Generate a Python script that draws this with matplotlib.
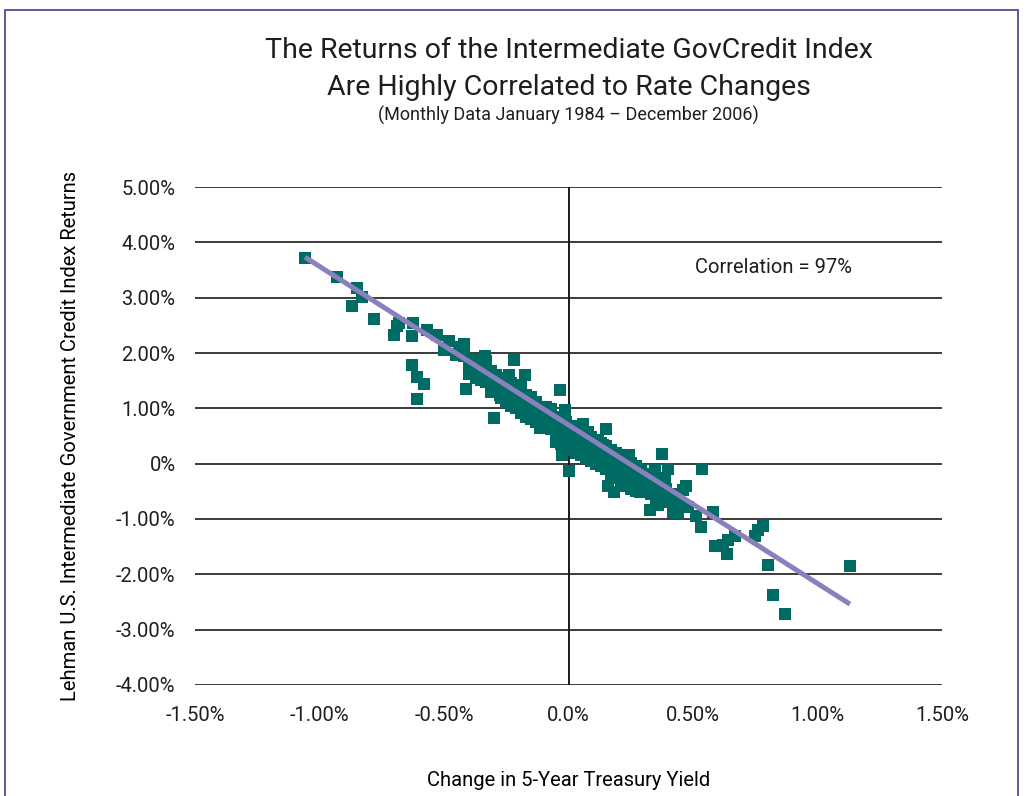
import numpy as np
import matplotlib.pyplot as plt
from matplotlib.patches import Rectangle

plt.rcParams['font.family'] = ['Roboto', 'DejaVu Sans']
plt.rcParams['text.color'] = '#1e1e1e'
plt.rcParams['xtick.color'] = '#1e1e1e'
plt.rcParams['ytick.color'] = '#1e1e1e'

# change in 5-year treasury yield (%) and index return (%)
outlier_x = [-1.058, -0.93, -0.85, -0.83, -0.87, -0.78, -0.70, -0.69, -0.625, -0.63,
             -0.68, -0.63, -0.61, -0.58, -0.61, -0.57, -0.53, -0.50, -0.48, -0.42,
             -0.45, -0.44, -0.42, -0.41, -0.38, -0.335, -0.33, -0.355, -0.31, -0.30,
             -0.29, -0.275, -0.22, -0.24, -0.255, -0.175, -0.19, -0.17, -0.155, -0.215,
             -0.195, -0.135, -0.11, -0.095, -0.115, -0.075, -0.034, -0.014, 0.002, -0.018,
             -0.006, -0.042, -0.026, 0.026, 0.058, 0.078, 0.066, 0.094, 0.118, 0.15,
             0.14, 0.16, 0.167, 0.11, 0.195, 0.227, 0.16, 0.183, 0.215, 0.243,
             0.255, 0.275, 0.287, 0.307, 0.327, 0.347, 0.375, 0.388, 0.40, 0.37,
             0.41, 0.42, 0.46, 0.47, 0.48, 0.45, 0.327, 0.36, 0.51, 0.53,
             0.536, 0.58, 0.59, 0.62, 0.636, 0.64, 0.668, 0.75, 0.76, 0.78,
             0.80, 0.82, 0.87, 1.13]
outlier_y = [3.71, 3.37, 3.17, 3.01, 2.85, 2.61, 2.32, 2.48, 2.54, 2.31,
             2.54, 1.78, 1.57, 1.44, 1.17, 2.41, 2.32, 2.05, 2.22, 2.17,
             1.96, 2.10, 1.94, 1.35, 1.70, 1.94, 1.85, 1.64, 1.60, 0.82,
             1.33, 1.24, 1.87, 1.60, 1.42, 1.60, 1.42, 1.24, 0.88, 1.15,
             1.08, 1.06, 0.97, 0.82, 0.64, 0.75, 1.33, 0.97, -0.13, 0.64,
             0.43, 0.48, 0.16, 0.57, 0.72, 0.57, 0.34, 0.19, 0.43, 0.62,
             0.34, 0.19, 0.07, 0.03, 0.01, 0.12, -0.40, -0.51, -0.41, 0.15,
             -0.11, -0.37, -0.51, -0.26, -0.46, -0.11, 0.17, -0.26, -0.10, -0.48,
             -0.66, -0.83, -0.48, -0.40, -0.79, -0.72, -0.83, -0.74, -0.95, -1.15,
             -0.10, -0.87, -1.49, -1.47, -1.63, -1.38, -1.31, -1.31, -1.19, -1.13,
             -1.83, -2.38, -2.72, -1.85]

band_x = [-0.40, -0.40, -0.40, -0.37, -0.37, -0.37, -0.35, -0.35, -0.35, -0.33,
          -0.33, -0.33, -0.31, -0.31, -0.31, -0.31, -0.29, -0.29, -0.29, -0.27,
          -0.27, -0.27, -0.27, -0.25, -0.25, -0.25, -0.25, -0.23, -0.23, -0.23,
          -0.23, -0.21, -0.21, -0.21, -0.21, -0.19, -0.19, -0.19, -0.19, -0.17,
          -0.17, -0.17, -0.17, -0.15, -0.15, -0.15, -0.15, -0.13, -0.13, -0.13,
          -0.13, -0.11, -0.11, -0.11, -0.11, -0.09, -0.09, -0.09, -0.09, -0.07,
          -0.07, -0.07, -0.07, -0.05, -0.05, -0.05, -0.05, -0.03, -0.03, -0.03,
          -0.03, -0.01, -0.01, -0.01, -0.01, 0.01, 0.01, 0.01, 0.01, 0.03,
          0.03, 0.03, 0.03, 0.05, 0.05, 0.05, 0.05, 0.07, 0.07, 0.07,
          0.07, 0.09, 0.09, 0.09, 0.09, 0.11, 0.11, 0.11, 0.11, 0.13,
          0.13, 0.13, 0.13, 0.15, 0.15, 0.15, 0.15, 0.17, 0.17, 0.17,
          0.17, 0.19, 0.19, 0.19, 0.19, 0.21, 0.21, 0.21, 0.21, 0.23,
          0.23, 0.23, 0.23, 0.25, 0.25, 0.25, 0.25, 0.27, 0.27, 0.27,
          0.27, 0.29, 0.29, 0.29, 0.31, 0.31, 0.31, 0.33, 0.33, 0.33,
          0.35, 0.35, 0.35, 0.37, 0.37, 0.37, 0.39, 0.39, 0.42, 0.42,
          0.42, 0.44, 0.44]
band_y = [1.78, 1.90, 1.62, 1.75, 1.55, 1.88, 1.70, 1.80, 1.52, 1.65,
          1.48, 1.72, 1.55, 1.42, 1.68, 1.30, 1.50, 1.38, 1.60, 1.45,
          1.30, 1.18, 1.55, 1.40, 1.25, 1.12, 1.50, 1.35, 1.20, 1.05,
          1.45, 1.28, 1.12, 1.00, 1.38, 1.22, 1.05, 0.92, 1.30, 1.15,
          1.00, 0.85, 1.25, 1.10, 0.95, 0.80, 1.20, 1.05, 0.88, 0.75,
          1.12, 1.00, 0.85, 0.70, 0.92, 0.95, 0.78, 0.68, 1.02, 0.90,
          0.75, 0.62, 0.98, 0.85, 0.70, 0.58, 0.40, 0.80, 0.65, 0.52,
          0.35, 0.75, 0.60, 0.45, 0.28, 0.68, 0.52, 0.40, 0.25, 0.62,
          0.48, 0.35, 0.20, 0.58, 0.42, 0.30, 0.15, 0.52, 0.38, 0.25,
          0.10, 0.48, 0.32, 0.20, 0.05, 0.42, 0.28, 0.12, 0.00, 0.38,
          0.22, 0.08, -0.05, 0.32, 0.15, 0.02, -0.10, 0.25, 0.10, -0.05,
          -0.18, 0.20, 0.05, -0.10, -0.25, 0.15, 0.00, -0.15, -0.30, 0.08,
          -0.08, -0.22, -0.38, 0.02, -0.15, -0.28, -0.45, -0.05, -0.20, -0.35,
          -0.50, -0.12, -0.28, -0.42, -0.18, -0.35, -0.50, -0.25, -0.40, -0.55,
          -0.30, -0.48, -0.62, -0.38, -0.55, -0.70, -0.45, -0.62, -0.55, -0.75,
          -0.88, -0.62, -0.90]

# regression line
fit_intercept = 0.70
fit_slope = -2.866

x_ticks = [-1.5, -1.0, -0.5, 0.0, 0.5, 1.0, 1.5]
x_ticklabels = ['-1.50%', '-1.00%', '-0.50%', '0.0%', '0.50%', '1.00%', '1.50%']
y_ticks = [5, 4, 3, 2, 1, 0, -1, -2, -3, -4]
y_ticklabels = ['5.00%', '4.00%', '3.00%', '2.00%', '1.00%', '0%',
                '-1.00%', '-2.00%', '-3.00%', '-4.00%']

x = np.array(outlier_x + band_x)
y = np.array(outlier_y + band_y)

fig = plt.figure(figsize=(10.29, 7.96), dpi=100)
ax = fig.add_axes([0.1895, 0.1395, 0.726, 0.6255])

for t in y_ticks:
    ax.axhline(t, color='#3a3a3a', lw=1.4, zorder=1)
ax.axvline(0, color='#1a1a1a', lw=1.4, zorder=1)

ax.scatter(x, y, marker='s', s=80, color='#006b63', linewidths=0, zorder=2)

fx = np.array([x.min(), x.max()])
ax.plot(fx, fit_intercept + fit_slope * fx, color='#8a80bb', lw=3.6,
        solid_capstyle='butt', zorder=3)

ax.text(0.508, 3.54, 'Correlation = 97%', fontsize=14.5, va='center', ha='left')

ax.set_xlim(-1.5, 1.5)
ax.set_ylim(-4, 5)
ax.set_xticks(x_ticks)
ax.set_xticklabels(x_ticklabels, fontsize=14.5)
ax.set_yticks(y_ticks)
ax.set_yticklabels(y_ticklabels, fontsize=14.5)
ax.tick_params(axis='x', length=0, pad=15)
ax.tick_params(axis='y', length=0, pad=14)
for s in ax.spines.values():
    s.set_visible(False)

ax.set_xlabel('Change in 5-Year Treasury Yield', fontsize=14.5, labelpad=33)
ax.set_ylabel('Lehman U.S. Intermediate Government Credit Index Returns',
              fontsize=14.5, labelpad=26)

fig.text(0.5525, 0.937, 'The Returns of the Intermediate GovCredit Index',
         fontsize=20.5, ha='center', va='center')
fig.text(0.5525, 0.890, 'Are Highly Correlated to Rate Changes',
         fontsize=20.5, ha='center', va='center')
fig.text(0.5525, 0.855, '(Monthly Data January 1984 \u2013 December 2006)',
         fontsize=13, ha='center', va='center')

# frame around the figure (bottom edge falls outside)
fig.patches.append(Rectangle((5 / 1029, -0.05), 1013 / 1029, 1.05 - 10 / 796,
                             transform=fig.transFigure, fill=False,
                             edgecolor='#3b3f8f', lw=1.2))

fig.savefig('out.png', dpi=100)
